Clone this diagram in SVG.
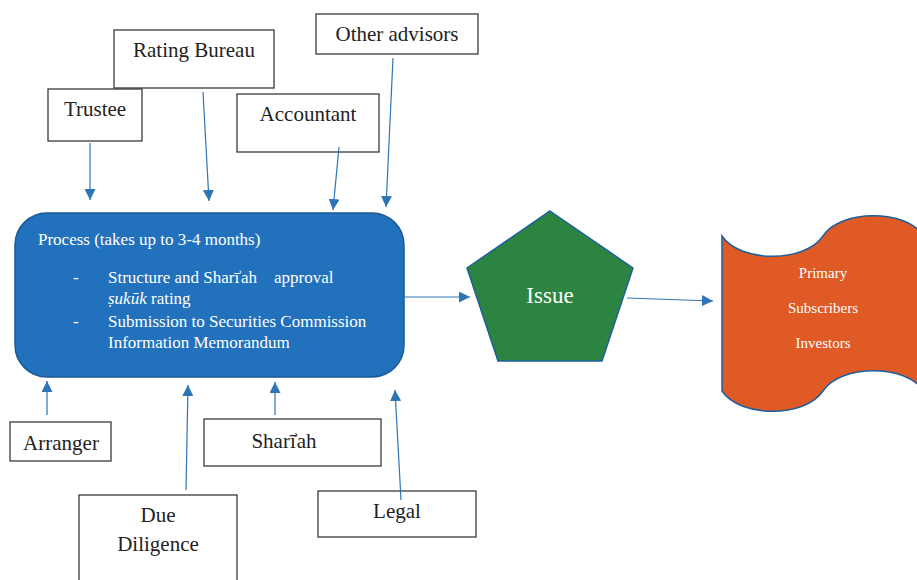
<svg xmlns="http://www.w3.org/2000/svg" width="917" height="580" viewBox="0 0 917 580">
<style>
.box{fill:#fff;stroke:#3a3a3a;stroke-width:1.3}
.lbl{font-family:"Liberation Serif","Times New Roman",serif;font-size:21px;fill:#222;text-anchor:middle}
.w{font-family:"Liberation Serif","Times New Roman",serif;fill:#fff}
.conn{stroke:#2E75B6;stroke-width:1.2;fill:none;marker-end:url(#ah)}
</style>
<defs>
<marker id="ah" viewBox="0 0 10 10" refX="10" refY="5" markerWidth="11" markerHeight="11" markerUnits="userSpaceOnUse" orient="auto">
<path d="M0,0 L10,5 L0,10 Z" fill="#2E75B6"/>
</marker>
</defs>
<rect width="917" height="580" fill="#fff"/>
<g id="trustee"><rect class="box" x="48" y="89" width="94" height="52"/><text class="lbl" x="95" y="116">Trustee</text></g>
<g id="rating-bureau"><rect class="box" x="114" y="30" width="160" height="58"/><text class="lbl" x="194" y="57">Rating Bureau</text></g>
<g id="accountant"><rect class="box" x="237" y="94" width="142" height="58"/><text class="lbl" x="308" y="121">Accountant</text></g>
<g id="other-advisors"><rect class="box" x="316" y="14" width="162" height="40"/><text class="lbl" x="397" y="41">Other advisors</text></g>
<g id="process">
<rect x="15" y="213" width="389" height="164" rx="32" ry="32" fill="#2271BC" stroke="#1B5A96" stroke-width="1.5"/>
<g class="w" font-size="17">
<text x="38" y="245">Process (takes up to 3-4 months)</text>
<text x="73" y="283">-</text>
<text x="108" y="283" xml:space="preserve">Structure and Sharī<tspan dx="-2">ʾ</tspan><tspan dx="-2">ah    approval</tspan></text>
<text x="108" y="304"><tspan font-style="italic">ṣukūk</tspan> rating</text>
<text x="73" y="327">-</text>
<text x="108" y="327">Submission to Securities Commission</text>
<text x="108" y="348">Information Memorandum</text>
</g>
</g>
<g id="issue">
<polygon points="550,211 633,268 602,361 498,361 467,268" fill="#2B8540" stroke="#1F5F9E" stroke-width="1.5"/>
<text class="w" x="550" y="303" font-size="23" text-anchor="middle">Issue</text>
</g>
<g id="investors">
<path d="M722,236 C740,263 805,263 823,236 C841,209 906,209 924,236 L924,391 C906,364 841,364 823,391 C805,418 740,418 722,391 Z" fill="#E05A26" stroke="#1F5F9E" stroke-width="1.5"/>
<g class="w" font-size="15" text-anchor="middle">
<text x="823" y="278">Primary</text>
<text x="823" y="313">Subscribers</text>
<text x="823" y="348">Investors</text>
</g>
</g>
<g id="arranger"><rect class="box" x="10" y="422" width="101" height="39"/><text class="lbl" x="61" y="450">Arranger</text></g>
<g id="due-diligence"><rect class="box" x="79" y="495" width="158" height="90"/><text class="lbl" x="158" y="522">Due</text><text class="lbl" x="158" y="551" font-size="23">Diligence</text></g>
<g id="shariah"><rect class="box" x="204" y="419" width="177" height="47"/><text class="lbl" x="284" y="448" font-size="22">Sharī<tspan dx="-3">ʾ</tspan><tspan dx="-3">ah</tspan></text></g>
<g id="legal"><rect class="box" x="318" y="491" width="158" height="46"/><text class="lbl" x="397" y="518">Legal</text></g>
<g id="connectors">
<line class="conn" x1="90" y1="143" x2="90" y2="200"/>
<line class="conn" x1="203" y1="92" x2="209" y2="201"/>
<line class="conn" x1="339" y1="147" x2="333" y2="210"/>
<line class="conn" x1="393" y1="58" x2="386" y2="207"/>
<line class="conn" x1="47" y1="415" x2="47" y2="381"/>
<line class="conn" x1="186" y1="490" x2="188" y2="385"/>
<line class="conn" x1="275" y1="415" x2="275" y2="382"/>
<line class="conn" x1="401" y1="500" x2="395" y2="390"/>
<line class="conn" x1="404" y1="297" x2="470" y2="297"/>
<line class="conn" x1="627" y1="298" x2="713" y2="301"/>
</g>
</svg>
